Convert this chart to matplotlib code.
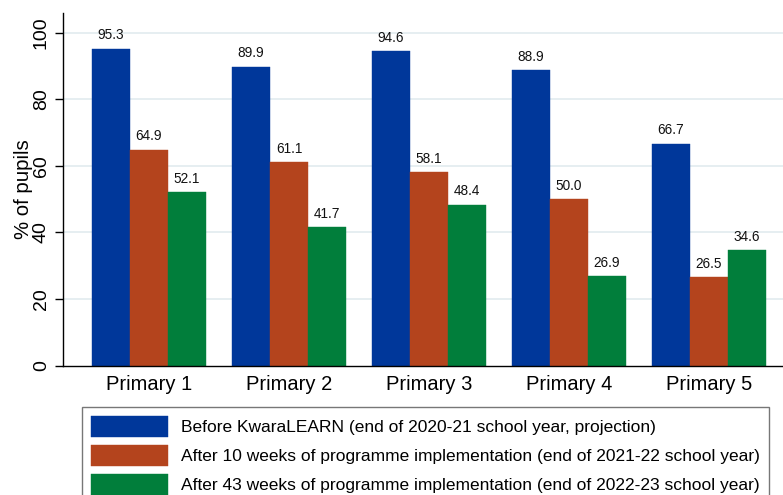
import numpy as np
import matplotlib
matplotlib.use("Agg")
import matplotlib.pyplot as plt

plt.rcParams["font.family"] = ["Liberation Sans", "DejaVu Sans"]

# Share of pupils per grade, three measurement rounds
grades = ["Primary 1", "Primary 2", "Primary 3", "Primary 4", "Primary 5"]
before = [95.3, 89.9, 94.6, 88.9, 66.7]
after_10wk = [64.9, 61.1, 58.1, 50.0, 26.5]
after_43wk = [52.1, 41.7, 48.4, 26.9, 34.6]
series_labels = [
    "Before KwaraLEARN (end of 2020-21 school year, projection)",
    "After 10 weeks of programme implementation (end of 2021-22 school year)",
    "After 43 weeks of programme implementation (end of 2022-23 school year)",
]
colors = ["#00379a", "#b4441d", "#017e3b"]
yticks = [0, 20, 40, 60, 80, 100]

fig = plt.figure(figsize=(7.83, 4.95), dpi=100)
ax = fig.add_axes([63 / 783, 1 - 365.5 / 495, 1 - 63 / 783, (365.5 - 12.7) / 495])

x = np.arange(len(grades))
width = 38 / 140
handles = []
for i, (vals, col) in enumerate(zip([before, after_10wk, after_43wk], colors)):
    bars = ax.bar(x + (i - 1) * width, vals, width, color=col, edgecolor=col,
                  linewidth=0.3, zorder=3)
    handles.append(bars)
    for b, v in zip(bars, vals):
        ax.annotate(f"{v:.1f}", (b.get_x() + b.get_width() / 2, v),
                    xytext=(0, 4.5), textcoords="offset points",
                    ha="center", va="bottom", fontsize=9.8, color="#111111")

ax.set_xlim(-0.614, 4.529)
ax.set_ylim(0, 106.1)
ax.set_yticks(yticks)
ax.set_yticklabels([str(t) for t in yticks], rotation=90, va="center", fontsize=14)
ax.set_xticks(x)
ax.set_xticklabels(grades, fontsize=14.5)
ax.tick_params(axis="x", length=0, pad=7)
ax.tick_params(axis="y", length=6, width=1, direction="out", pad=3.5)
for t in yticks[1:]:
    ax.axhline(t, color="#e6eef1", linewidth=1.4, zorder=1)
for s in ["top", "right"]:
    ax.spines[s].set_visible(False)
for s in ["left", "bottom"]:
    ax.spines[s].set_linewidth(1.0)
    ax.spines[s].set_color("black")
    ax.spines[s].set_zorder(4)

ax.set_ylabel("% of pupils", fontsize=14.7)
ax.yaxis.set_label_coords(-0.041, 0.5)

leg = fig.legend(handles, series_labels, loc="upper left",
                 bbox_to_anchor=(82 / 783, 1 - 407 / 495),
                 fontsize=12.5, frameon=True, fancybox=False,
                 handlelength=4.45, handleheight=1.5, handletextpad=0.78,
                 labelspacing=0.45, borderpad=0.5, borderaxespad=0)
leg.get_frame().set_edgecolor("#555555")
leg.get_frame().set_linewidth(1.0)

fig.savefig("out.png", dpi=100)
